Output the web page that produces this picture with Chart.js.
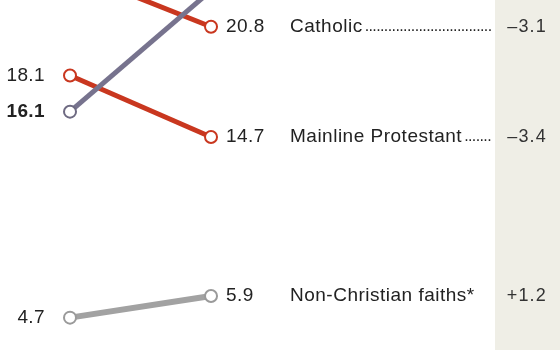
<!DOCTYPE html>
<html>
<head>
<meta charset="utf-8">
<script src="https://cdn.jsdelivr.net/npm/chart.js@4/dist/chart.umd.min.js"></script>
<style>
  html, body { margin: 0; padding: 0; background: #ffffff; }
  #wrap { width: 560px; height: 350px; position: relative; }
</style>
</head>
<body>
<div id="wrap"><canvas id="c" width="560" height="350"></canvas></div>
<script>
// ---- data ----
const years = [2007, 2014];
const seriesNames = ['Catholic', 'Mainline Protestant', 'Unaffiliated', 'Non-Christian faiths*'];
const values2007 = [23.9, 18.1, 16.1, 4.7];
const values2014 = [20.8, 14.7, 22.8, 5.9];
const changeLabels = ['\u20133.1', '\u20133.4', '+6.7', '+1.2'];
const leaderDots = [true, true, true, false];
const boldLeft = [false, false, true, false];
const lineColors = ['#c9371f', '#c9371f', '#77738e', '#a2a2a2'];
const markerColors = ['#c9371f', '#c9371f', '#6e6a82', '#9a9a9a'];

const datasets = seriesNames.map((name, i) => ({
  label: name,
  data: [{x: 0, y: values2007[i]}, {x: 1, y: values2014[i]}],
  borderColor: lineColors[i],
  borderWidth: i === 3 ? 6 : 5,
  pointRadius: 6,
  pointBorderWidth: 2,
  pointBackgroundColor: '#ffffff',
  pointBorderColor: markerColors[i],
  pointHoverRadius: 6,
  clip: false,
  order: i === 2 ? 0 : i + 1
}));

const bandPlugin = {
  id: 'band',
  beforeDraw(chart) {
    const ctx = chart.ctx;
    ctx.save();
    ctx.fillStyle = '#efeee6';
    ctx.fillRect(495, 0, 65, chart.height);
    ctx.restore();
  }
};

const FONT = '"Liberation Sans", Arial, sans-serif';

const labelPlugin = {
  id: 'labels',
  afterDraw(chart) {
    const ctx = chart.ctx;
    const xs = chart.scales.x, ys = chart.scales.y;
    ctx.save();
    ctx.textBaseline = 'middle';
    ctx.fillStyle = '#222222';
    seriesNames.forEach((name, i) => {
      const x0 = xs.getPixelForValue(0), x1 = xs.getPixelForValue(1);
      const y0 = ys.getPixelForValue(values2007[i]);
      const y1 = ys.getPixelForValue(values2014[i]);
      // left value
      if (y0 > 4) {
        ctx.letterSpacing = '0.4px';
        ctx.font = (boldLeft[i] ? 'bold ' : '') + '19px ' + FONT;
        ctx.textAlign = 'right';
        ctx.fillText(values2007[i].toFixed(1), x0 - 25, y0);
      }
      if (y1 > 4) {
        // right value
        ctx.letterSpacing = '0.4px';
        ctx.font = '19px ' + FONT;
        ctx.textAlign = 'left';
        ctx.fillText(values2014[i].toFixed(1), x1 + 15, y1);
        // category name
        ctx.letterSpacing = '0.5px';
        ctx.fillText(name, 290, y1);
        let w = ctx.measureText(name).width;
        // leader dots
        if (leaderDots[i]) {
          ctx.letterSpacing = '-0.6px';
          ctx.font = '16px ' + FONT;
          let dots = '';
          const start = 290 + w + 2;
          while (start + ctx.measureText(dots + '.').width < 494) dots += '.';
          ctx.fillText(dots, start, y1);
        }
        // change
        ctx.letterSpacing = '1.2px';
        ctx.fillStyle = '#333333';
        ctx.font = '18px "Liberation Sans Narrow", "Liberation Sans", Arial, sans-serif';
        ctx.textAlign = 'right';
        ctx.fillText(changeLabels[i], 547, y1);
        ctx.fillStyle = '#222222';
      }
    });
    ctx.restore();
  }
};

new Chart(document.getElementById('c'), {
  type: 'line',
  data: { datasets },
  options: {
    responsive: false,
    animation: false,
    events: [],
    layout: { padding: 0, autoPadding: false },
    plugins: { legend: { display: false }, tooltip: { enabled: false } },
    scales: {
      x: { type: 'linear', min: -0.4965, max: 3.475, display: false },
      y: { type: 'linear', min: 2.91, max: 22.28, display: false }
    }
  },
  plugins: [bandPlugin, labelPlugin]
});
</script>
</body>
</html>
